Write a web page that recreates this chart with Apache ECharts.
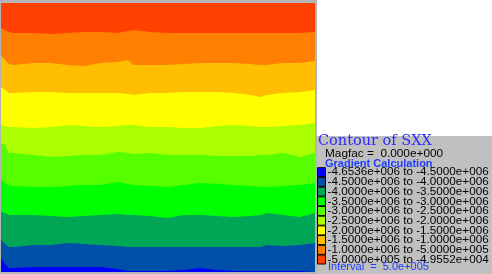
<!DOCTYPE html>
<html><head><meta charset="utf-8">
<script src="https://cdn.jsdelivr.net/npm/echarts@6/dist/echarts.min.js"></script>
<style>html,body{margin:0;padding:0;background:#fff}#c{width:492px;height:274px}</style>
</head><body><div id="c"></div>
<script>
// model x positions (across the part) at which contour boundaries were read
const xs = [0,4,8,12,33,50,67,83,100,117,127,133,150,167,183,200,217,233,250,260,267,283,300,315];
// depth (from the top edge) of each contour boundary, top to bottom
const edgeTop = [0,0,0,0,0,0,0,0,0,0,0,0,0,0,0,0,0,0,0,0,0,0,0,0];
const edge1 = [25,27,29,30,30,31,30,29,29,30,28,27,29,30,30,30,30,30,30,30,30,30,30,29];
const edge2 = [52,57,61,62,60,60,62,63,60,59,57,62,62,62,61,60,60,60,61,62,62,60,60,58];
const edge3 = [84,87,90,90,89,89,90,90,90,90,91,92,90,90,89,89,89,90,92,94,92,90,89,87];
const edge4 = [122,123,124,124,125,124,122,123,124,123,122,122,124,124,125,125,123,122,123,124,124,123,122,120];
const edge5 = [140,142,150,150,152,154,153,152,152,149,150,151,150,152,152,152,153,153,153,152,152,150,154,150];
const edge6 = [177,180,183,183,184,184,183,182,182,179,181,182,183,184,182,180,181,182,183,184,184,183,182,180];
const edge7 = [209,210,212,212,212,213,214,213,212,211,212,212,213,215,212,212,213,214,213,212,210,212,214,210];
const edge8 = [237,241,244,244,242,242,240,241,242,243,244,244,244,244,244,244,244,244,244,244,242,243,242,240];
const edge9 = [255,261,265,265,264,264,264,264,264,266,268,268,268,268,267,265,267,268,268,268,268,268,268,268];
// contour level labels, lowest first (legend order)
const levelLabels = [
  "-4.6536e+006 to -4.5000e+006",
  "-4.5000e+006 to -4.0000e+006",
  "-4.0000e+006 to -3.5000e+006",
  "-3.5000e+006 to -3.0000e+006",
  "-3.0000e+006 to -2.5000e+006",
  "-2.5000e+006 to -2.0000e+006",
  "-2.0000e+006 to -1.5000e+006",
  "-1.5000e+006 to -1.0000e+006",
  "-1.0000e+006 to -5.0000e+005",
  "-5.0000e+005 to -4.9552e+004"
];
const levelColors = ["#0000ff","#0050aa","#00a655","#00ff00","#55ff00","#aaff00","#ffff00","#ffbf00","#ff8000","#ff4000"];
// upper edge of each band, from highest level (top) to lowest (bottom)
const bandEdges = [edgeTop, edge1, edge2, edge3, edge4, edge5, edge6, edge7, edge8, edge9];

const chart = echarts.init(document.getElementById('c'), null, {renderer:'canvas'});
const series = bandEdges.map((edge, k) => {
  const lvl = 9 - k;
  return {
    type: 'line', name: levelLabels[lvl],
    data: xs.map((x, i) => [x, edge[i]]),
    showSymbol: false, symbol: 'none', silent: true, animation: false,
    color: levelColors[lvl],
    lineStyle: {width: 0, color: levelColors[lvl]},
    itemStyle: {color: levelColors[lvl]},
    areaStyle: {origin: 'end', color: levelColors[lvl], opacity: 1},
    z: 2 + k
  };
});
chart.setOption({
  animation: false,
  backgroundColor: '#ffffff',
  graphic: [
    {type: 'rect', shape: {x: 0, y: 0, width: 317, height: 274}, style: {fill: '#b4b4b4'}, z: -10, silent: true},
    {type: 'rect', shape: {x: 317, y: 136, width: 175, height: 138}, style: {fill: '#c0c0c0'}, z: -10, silent: true}
  ],
  title: [
    {text: 'Contour of SXX', left: 318, top: 134, padding: 0,
     textStyle: {fontFamily: 'DejaVu Serif', fontSize: 14.5, fontWeight: 'normal', color: '#2a2aff'}},
    {text: 'Magfac =  0.000e+000', left: 325, top: 148, padding: 0,
     textStyle: {fontFamily: 'Liberation Sans', fontSize: 11.8, fontWeight: 'normal', color: '#000000'}},
    {text: 'Gradient Calculation', left: 325, top: 158.5, padding: 0,
     textStyle: {fontFamily: 'Liberation Sans', fontSize: 11, fontWeight: 'bold', color: '#1e3cff'}},
    {text: 'Interval  =  5.0e+005', left: 328, top: 261.5, padding: 0,
     textStyle: {fontFamily: 'Liberation Sans', fontSize: 11, fontWeight: 'normal', color: '#1e3cff'}}
  ],
  legend: {
    orient: 'vertical', left: 317, top: 166.2, padding: 0,
    itemWidth: 8, itemHeight: 9, itemGap: -2.3, icon: 'rect',
    selectedMode: false,
    data: levelLabels,
    itemStyle: {borderColor: '#000000', borderWidth: 1},
    textStyle: {fontFamily: 'Liberation Sans', fontSize: 11.7, color: '#000000', lineHeight: 9, padding: [0,0,0,-3]}
  },
  grid: {left: 1, top: 3, width: 314, height: 269, show: false},
  xAxis: {type: 'value', min: 0, max: 315, show: false},
  yAxis: {type: 'value', min: 0, max: 269, inverse: true, show: false},
  series: series
});
</script></body></html>
